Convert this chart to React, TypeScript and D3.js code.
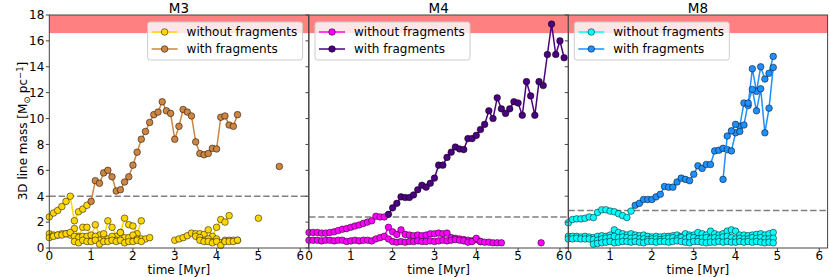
import React from "react";
import * as d3 from "d3";

// snapshot times [Myr] of the simulation outputs
const snapshots = [
  0, 0.1, 0.2, 0.3, 0.4, 0.5, 0.6, 0.7, 0.8, 0.9, 1.0, 1.1, 1.2, 1.3, 1.4, 1.5, 1.6, 1.7, 1.8, 1.9,
  2.0, 2.1, 2.2, 2.3, 2.4, 2.5, 2.6, 2.7, 2.8, 2.9, 3.0, 3.1, 3.2, 3.3, 3.4, 3.5, 3.6, 3.7, 3.8, 3.9,
  4.0, 4.1, 4.2, 4.3, 4.4, 4.5, 4.6, 4.7, 4.8, 4.9, 5.0, 5.1, 5.2, 5.3, 5.4, 5.5, 5.6, 5.7, 5.8, 5.9,
  6.0, 6.1,
];

const panelNames = ["M3", "M4", "M8"];
const criticalMass = [4.0, 2.4, 2.9];
const yTicks = [0, 2, 4, 6, 8, 10, 12, 14, 16, 18];
const xTicks = [0, 1, 2, 3, 4, 5, 6];
const legendLabels = ["without fragments", "with fragments"];

// M3
const m3NoA = [2.4, 2.7, 2.9, 3.2, 3.6, 4.0, 2.1, 2.8, 3.0, 3.3];
const m3NoB = [1.1, 1.0, 1.0, 1.1, 1.1, 1.0, 1.5, 0.9, 1.6, 1.6, 0.9, 1.8, 1.0, 0.8, 2.1, 1.6, 0.9, 1.2, 2.3, 1.8, 1.7, 1.1, 2.1];
const m3NoC = [0.8, 0.9, 1.0, 1.0, 1.1, 1.2, 0.9, 0.8, 0.9, 0.9, 1.0, 0.9, 0.6, 1.1, 0.7, 0.9, 0.6, 1.2, 0.8, 0.8, 1.0, 0.7, 0.7, 0.7, 0.8];
const m3NoD = [0.5, 0.4, 0.6, 0.5, 0.5, 0.6, 0.3, 0.5, 0.5, 0.6, 0.5, 0.6, 0.4, 0.5, 0.5, 0.6, 0.5];
const m3NoE = [0.6, 0.7, 0.8, 0.95, 1.15, 1.1, 1.1, 1.05, 1.4, 0.9, 1.6, 2.2, 2.0, 2.5];
const m3NoF = [0.9, 0.8, 0.6, 0.7, 0.5, 0.7, 0.4, 0.6, 0.6, 0.6, 0.6];
const m3NoG = [0.6, 0.5, 0.5, 0.4, 0.5, 0.2, 0.5, 0.5, 0.5, 0.6];
const m3NoLate: [number, number][] = [[5.0, 2.3]];
const m3With = [
  3.6, 5.2, 5.0, 5.8, 6.0, 5.5, 4.4, 4.5, 5.1, 5.5, 6.4, 7.4, 8.4, 9.0, 9.7, 10.3, 10.5, 11.3, 10.6, 10.4,
  8.4, 9.4, 10.7, 10.5, 10.2, 8.2, 7.3, 7.2, 7.3, 7.7, 7.65, 10.1, 10.2, 9.5, 9.4, 10.3,
];
const m3WithLate: [number, number][] = [[5.5, 6.3]];

// M4
const m4NoA = [1.2, 1.2, 1.2, 1.15, 1.15, 1.2, 1.25, 1.35, 1.45, 1.5, 1.6, 1.7, 1.78, 1.9, 2.0, 2.1, 2.45, 2.4, 2.4];
const m4NoB = [
  0.6, 0.6, 0.6, 0.55, 0.6, 0.6, 0.55, 0.6, 0.6, 0.5, 0.55, 0.6, 0.55, 0.6, 0.6, 0.55, 0.7, 0.8, 0.9, 1.6,
  1.25, 1.05, 1.4, 1.05, 1.0, 0.95, 1.0, 0.95, 1.0, 1.1, 1.1, 1.15, 1.1, 1.15, 0.8, 0.75, 0.7, 0.65, 0.6, 0.55,
  0.65, 0.5,
];
const m4NoC = [
  0.7, 0.5, 0.45, 0.5, 0.45, 0.5, 0.5, 0.55, 0.5, 0.5, 0.55, 0.5, 0.55, 0.6, 0.55, 0.6, 0.65, 0.6, 0.55, 0.45,
  0.5, 0.75, 0.5, 0.45, 0.45, 0.4, 0.4, 0.4,
];
const m4NoLate: [number, number][] = [[5.55, 0.4]];
const m4With = [
  2.6, 3.1, 3.45, 3.95, 3.9, 3.9, 4.1, 4.5, 4.85, 4.7, 5.0, 5.4, 6.4, 6.4, 7.0, 7.4, 7.8, 7.65, 7.6, 8.45,
  8.45, 8.7, 9.15, 9.55, 10.6, 10.0, 11.6, 10.75, 10.4, 10.75, 11.3, 11.2, 10.25, 12.85, 11.75, 10.25, 12.85, 12.55, 14.95, 17.3,
  14.95, 16.0, 14.7,
];

// M8
const m8NoA = [1.95, 2.2, 2.25, 2.25, 2.3, 2.4, 2.35, 2.75, 2.95, 2.95, 2.85, 2.8, 2.65, 2.5, 2.35, 2.85];
const m8NoB = [
  0.9, 0.9, 0.9, 0.85, 0.9, 0.85, 0.8, 0.9, 0.95, 0.9, 1.0, 1.4, 1.2, 1.1, 1.0, 1.1, 1.0, 0.95, 1.0, 0.9,
  0.85, 0.9, 0.85, 0.9, 0.9, 0.95, 1.0, 0.9, 1.1, 1.0, 1.0, 1.2, 1.1, 1.0, 1.3, 1.1, 1.0, 1.1, 1.3, 1.4,
  1.3, 1.0, 1.0, 0.95, 1.0, 1.05, 1.1, 1.0, 1.1, 1.2,
];
const m8NoC = [
  0.7, 0.7, 0.75, 0.7, 0.7, 0.7, 0.65, 0.6, 0.7, 0.75, 0.8, 0.9, 0.8, 0.85, 0.8, 0.75, 0.8, 0.7, 0.7, 0.65,
  0.7, 0.7, 0.65, 0.7, 0.75, 0.8, 0.7, 0.8, 0.7, 0.85, 0.8, 0.7, 0.75, 0.8, 0.7, 0.8, 0.75, 0.85, 0.9, 0.8,
  0.7, 0.75, 0.7, 0.7, 0.8, 0.75, 0.8, 0.7, 0.7, 0.75,
];
const m8NoD = [
  0.3, 0.35, 0.4, 0.45, 0.5, 0.4, 0.45, 0.5, 0.5, 0.45, 0.5, 0.45, 0.4, 0.5, 0.5, 0.45, 0.5, 0.5, 0.45, 0.5,
  0.55, 0.5, 0.45, 0.4, 0.5, 0.5, 0.45, 0.4, 0.45, 0.45, 0.5, 0.45, 0.5, 0.45, 0.45, 0.5, 0.45, 0.5, 0.45, 0.5,
  0.45, 0.4, 0.45, 0.4,
];
const m8WithA = [
  3.3, 3.45, 3.75, 3.75, 3.75, 3.95, 4.15, 4.75, 4.7, 4.7, 5.1, 5.4, 5.3, 5.2, 5.7, 6.35, 6.15, 6.45, 6.45, 7.5,
  7.55, 7.7, 7.6, 7.5, 8.9, 9.4, 11.2, 11.0, 13.85, 12.1, 14.0, 13.05, 13.5, 14.8,
];
const m8WithB = [5.3, 8.65, 9.05, 9.55, 9.0, 9.5, 11.2, 12.25, 10.6, 12.3, 8.9, 10.8, 13.95];

// pair values with the snapshot times, starting at a given snapshot
const fromSnap = (start: number, vals: number[]): [number, number][] => {
  const i0 = snapshots.findIndex((t) => Math.abs(t - start) < 1e-6);
  return vals.map((v, i) => [snapshots[i0 + i], v]);
};

const panels = [
  {
    noColor: "#ffd700",
    withColor: "#cd853f",
    legendSide: "right",
    without: [
      fromSnap(0, m3NoA), fromSnap(0, m3NoB), fromSnap(0, m3NoC), fromSnap(0.6, m3NoD),
      fromSnap(3.0, m3NoE), fromSnap(3.5, m3NoF), fromSnap(3.6, m3NoG), m3NoLate,
    ],
    with: [fromSnap(1.0, m3With), m3WithLate],
  },
  {
    noColor: "#ff00ff",
    withColor: "#4b0082",
    legendSide: "left",
    without: [fromSnap(0, m4NoA), fromSnap(0, m4NoB), fromSnap(1.9, m4NoC), m4NoLate],
    with: [fromSnap(1.9, m4With)],
  },
  {
    noColor: "#00ffff",
    withColor: "#1e90ff",
    legendSide: "left",
    without: [fromSnap(0, m8NoA), fromSnap(0, m8NoB), fromSnap(0, m8NoC), fromSnap(0.6, m8NoD)],
    with: [fromSnap(1.6, m8WithA), fromSnap(3.7, m8WithB)],
  },
];

const W = 830;
const H = 277;
const top = 15;
const bottom = 248;
const panelLeft = [49.3, 309, 568.3];
const panelW = 259.3;
const font = "DejaVu Sans";
const markerR = 3.3;

const y = d3.scaleLinear().domain([0, 18]).range([bottom, top]);

function Series({ data, color, x }: { data: [number, number][]; color: string; x: d3.ScaleLinear<number, number> }) {
  const line = d3
    .line<[number, number]>()
    .x((d) => x(d[0]))
    .y((d) => y(d[1]));
  return (
    <g>
      {data.length > 1 && <path d={line(data) ?? ""} fill="none" stroke={color} strokeWidth={1.5} />}
      {data.map((d, i) => (
        <circle key={i} cx={x(d[0])} cy={y(d[1])} r={markerR} fill={color} stroke="#000" strokeWidth={0.5} />
      ))}
    </g>
  );
}

function Panel({ idx }: { idx: number }) {
  const p = panels[idx];
  const x0 = panelLeft[idx];
  const x = d3.scaleLinear().domain([0, 6.2]).range([x0, x0 + panelW]);
  const lw = 155;
  const lx = p.legendSide === "right" ? x0 + panelW - lw - 6 : x0 + 6;
  const ly = top + 7;
  return (
    <g>
      <rect x={x0} y={y(18)} width={panelW} height={y(16.6) - y(18)} fill="#ff8080" />
      <line x1={x0} x2={x0 + panelW} y1={y(criticalMass[idx])} y2={y(criticalMass[idx])} stroke="#808080" strokeWidth={1.5} strokeDasharray="6.5,2.8" />
      {p.without.map((s, i) => (
        <Series key={"n" + i} data={s} color={p.noColor} x={x} />
      ))}
      {p.with.map((s, i) => (
        <Series key={"w" + i} data={s} color={p.withColor} x={x} />
      ))}
      <rect x={x0} y={top} width={panelW} height={bottom - top} fill="none" stroke="#444" strokeWidth={1} />
      {yTicks.map((t) => (
        <g key={"y" + t}>
          <line x1={x0 - 3.5} x2={x0} y1={y(t)} y2={y(t)} stroke="#444" strokeWidth={1} />
          {idx === 0 && (
            <text x={x0 - 5} y={y(t) + 4.3} textAnchor="end" fontSize={12} fontFamily={font}>
              {t}
            </text>
          )}
        </g>
      ))}
      {xTicks.map((t) => (
        <g key={"x" + t}>
          <line x1={x(t)} x2={x(t)} y1={bottom} y2={bottom + 3.5} stroke="#444" strokeWidth={1} />
          <text x={x(t)} y={260} textAnchor="middle" fontSize={12} fontFamily={font}>
            {t}
          </text>
        </g>
      ))}
      <text x={x0 + panelW / 2} y={273.5} textAnchor="middle" fontSize={12} fontFamily={font}>
        time [Myr]
      </text>
      <text x={x0 + panelW / 2} y={12.5} textAnchor="middle" fontSize={13.5} fontFamily={font}>
        {panelNames[idx]}
      </text>
      <rect x={lx} y={ly} width={lw} height={38} rx={2.5} fill="#fff" fillOpacity={0.8} stroke="#ccc" strokeWidth={1} />
      {legendLabels.map((lab, i) => {
        const c = i === 0 ? p.noColor : p.withColor;
        const ry = ly + 10 + i * 17;
        return (
          <g key={lab}>
            <line x1={lx + 4} x2={lx + 30} y1={ry} y2={ry} stroke={c} strokeWidth={1.5} />
            <circle cx={lx + 17} cy={ry} r={markerR} fill={c} stroke="#000" strokeWidth={0.5} />
            <text x={lx + 39} y={ry + 4.3} fontSize={12} fontFamily={font}>
              {lab}
            </text>
          </g>
        );
      })}
    </g>
  );
}

export default function App() {
  return (
    <svg width={W} height={H} style={{ position: "absolute", left: 0, top: 0, background: "#fff" }}>
      {panelNames.map((n, i) => (
        <Panel key={n} idx={i} />
      ))}
      <text transform="translate(27,131) rotate(-90)" textAnchor="middle" fontSize={12} fontFamily={font}>
        3D line mass [M
        <tspan dy={2.5} fontSize={8.5}>⊙</tspan>
        <tspan dy={-2.5} dx={3.5}>pc</tspan>
        <tspan dy={-4.5} fontSize={8.5}>−1</tspan>
        <tspan dy={4.5}>]</tspan>
      </text>
    </svg>
  );
}
